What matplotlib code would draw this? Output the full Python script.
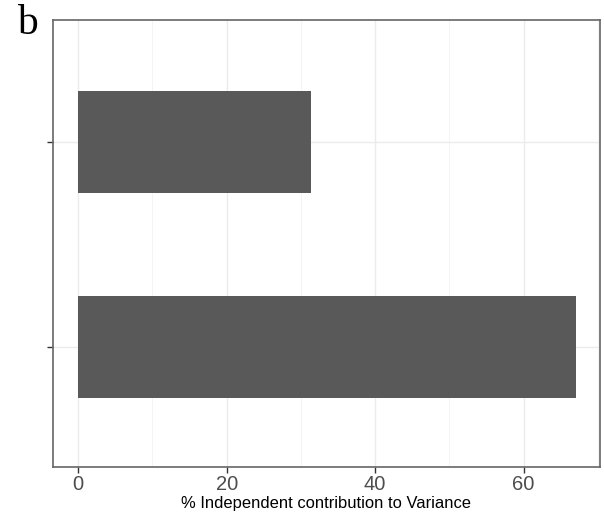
import matplotlib.pyplot as plt

# ======================
# 数据
# ======================
categories = ["A", "B"]
contribution = [67.1, 31.3]
x_ticks = [0, 20, 40, 60]
x_minor = [10, 30, 50, 70]

# ======================
# 画图
# ======================
fig = plt.figure(figsize=(6.04, 5.19), dpi=100)
ax = fig.add_axes([0.0877, 0.1002, 0.9056, 0.8613])

ypos = list(range(1, len(categories) + 1))
ax.barh(ypos, contribution, height=0.5, color="#595959", zorder=3)

ax.set_xlim(-3.4, 70.3)
ax.set_ylim(0.41, 2.6)

ax.set_xticks(x_ticks)
ax.set_xticks(x_minor, minor=True)
ax.set_yticks(ypos)
ax.set_yticklabels([])

ax.grid(which="major", color="#EBEBEB", lw=1.0, zorder=0)
ax.grid(which="minor", axis="x", color="#F2F2F2", lw=0.6, zorder=0)

ax.tick_params(axis="x", which="major", labelsize=14.5, labelcolor="#4D4D4D",
               color="#333333", length=4, width=1, pad=2)
ax.tick_params(axis="x", which="minor", length=0)
ax.tick_params(axis="y", color="#333333", length=4, width=1)
for lab in ax.get_xticklabels():
    lab.set_family("Liberation Sans")

for s in ax.spines.values():
    s.set_color("#666666")
    s.set_linewidth(1.2)

ax.set_xlabel("% Independent contribution to Variance", fontsize=11.9,
              family="Liberation Sans", labelpad=1)

fig.text(0.028, 0.935, "b", fontsize=30, family="Liberation Serif")

plt.savefig("out.png", dpi=100)
